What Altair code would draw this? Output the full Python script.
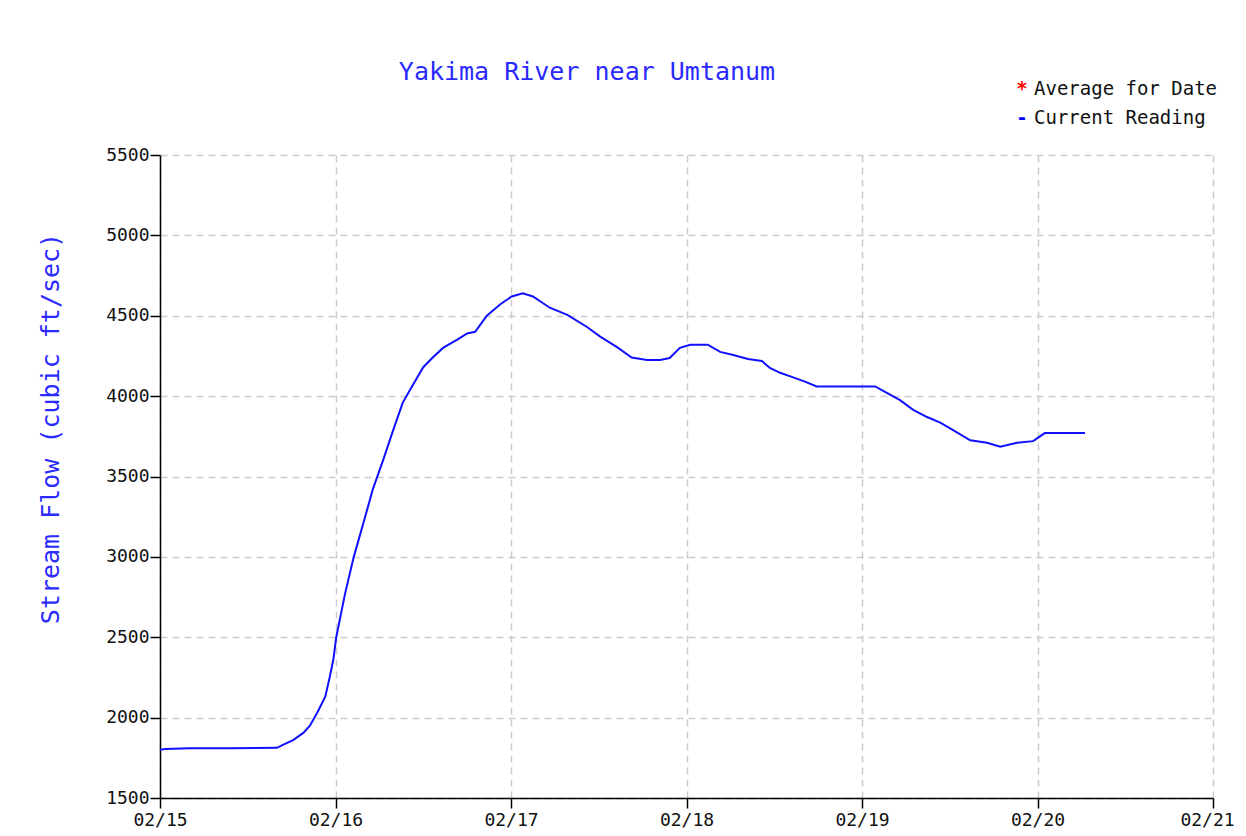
import altair as alt
import pandas as pd

# Hours since 02/15 00:00 and stream flow readings (cfs)
hours = [0, 0.7, 4.1, 10, 16.0, 16.8, 18.2, 19.6, 20.5, 21.5, 22.6, 23.2, 23.7, 24.1, 25.3, 26.5,
         28.0, 29.1, 30.5, 31.9, 33.2, 34.2, 36.0, 37.3, 38.7, 40.6, 42.0, 43.1, 44.7, 46.5,
         48.1, 49.6, 51.0, 53.3, 55.7, 58.4, 60.2, 62.5, 64.5, 66.6, 68.4, 69.7, 71.1, 72.5,
         74.9, 76.6, 78.4, 80.4, 82.3, 83.4, 84.8, 86.4, 88.2, 89.8, 97.8, 99.4, 101.2, 103.0,
         104.9, 106.7, 108.4, 110.8, 113.1, 114.9, 117.2, 119.4, 121.0, 126.5]
flow = [1800, 1805, 1810, 1810, 1812, 1830, 1860, 1905, 1950, 2030, 2130, 2250, 2360, 2500, 2770, 3000,
        3240, 3420, 3600, 3790, 3960, 4040, 4180, 4240, 4300, 4350, 4390, 4400, 4500, 4570,
        4620, 4640, 4620, 4550, 4505, 4430, 4370, 4305, 4240, 4225, 4225, 4237, 4300, 4320,
        4320, 4275, 4256, 4231, 4219, 4175, 4145, 4120, 4090, 4060, 4060, 4020, 3975, 3915,
        3870, 3835, 3790, 3725, 3710, 3685, 3710, 3720, 3770, 3770]

day_ticks = [0, 1, 2, 3, 4, 5, 6]
day_labels = ["02/15", "02/16", "02/17", "02/18", "02/19", "02/20", "02/21"]
y_ticks = [1500, 2000, 2500, 3000, 3500, 4000, 4500, 5000, 5500]

chart_title = "Yakima River near Umtanum"
legend_symbols = ["*", "-"]
legend_labels = ["Average for Date", "Current Reading"]
legend_colors = ["#ff0000", "#0000ff"]

FONT = "DejaVu Sans Mono"

df = pd.DataFrame({"hours": hours, "flow": flow})
label_map = "{" + ",".join(f"'{d}':'{l}'" for d, l in zip(day_ticks, day_labels)) + "}"

line = alt.Chart(df).transform_calculate(day="datum.hours / 24").mark_line(
    color="#1010ff", strokeWidth=2
).encode(
    x=alt.X("day:Q",
            scale=alt.Scale(domain=[0, 6], nice=False, zero=False),
            axis=alt.Axis(values=day_ticks, labelExpr=label_map + "[datum.value]",
                          title=None, grid=True, labelFlush=False, labelPadding=3,
                          labelOffset={"condition": {"test": "datum.value == 6", "value": -6},
                                       "value": 0})),
    y=alt.Y("flow:Q",
            scale=alt.Scale(domain=[1500, 5500], nice=False, zero=False),
            axis=alt.Axis(values=y_ticks, format="d",
                          title="Stream Flow (cubic ft/sec)",
                          titleColor="#2a2aff", titleFont=FONT, titleFontSize=25,
                          titleFontWeight="normal", titleAngle=-90,
                          titleX=-110, titleY=273, titleAlign="center",
                          titleBaseline="middle", grid=True)),
)

title_layer = alt.Chart(pd.DataFrame({"t": [chart_title]})).mark_text(
    font=FONT, fontSize=25, color="#2a2aff", align="center", baseline="middle"
).encode(text="t:N", x=alt.value(427), y=alt.value(-83))

layers = [line, title_layer]
for i, (sym, lab, col) in enumerate(zip(legend_symbols, legend_labels, legend_colors)):
    ypos = -66 + i * 29
    layers.append(alt.Chart(pd.DataFrame({"t": [sym]})).mark_text(
        font=FONT, fontSize=19, color=col, align="center", baseline="middle", fontWeight="bold"
    ).encode(text="t:N", x=alt.value(862), y=alt.value(ypos)))
    layers.append(alt.Chart(pd.DataFrame({"t": [lab]})).mark_text(
        font=FONT, fontSize=19, color="#111111", align="left", baseline="middle"
    ).encode(text="t:N", x=alt.value(874), y=alt.value(ypos)))

chart = alt.layer(*layers).properties(
    width=1053, height=643,
    autosize=alt.AutoSizeParams(type="none"),
    padding={"left": 152, "top": 147, "right": 25, "bottom": 30},
    background="white",
).configure_view(stroke=None).configure_axis(
    domainColor="#000000", domainWidth=1.5, tickColor="#000000", tickWidth=1.5,
    tickSize=10, labelPadding=1, labelFont=FONT, labelFontSize=18, labelColor="#111111",
    gridColor="#cccccc", gridDash=[7, 5], gridWidth=1.5,
)

chart.save("out.html", embed_options={"renderer": "svg", "actions": False})
